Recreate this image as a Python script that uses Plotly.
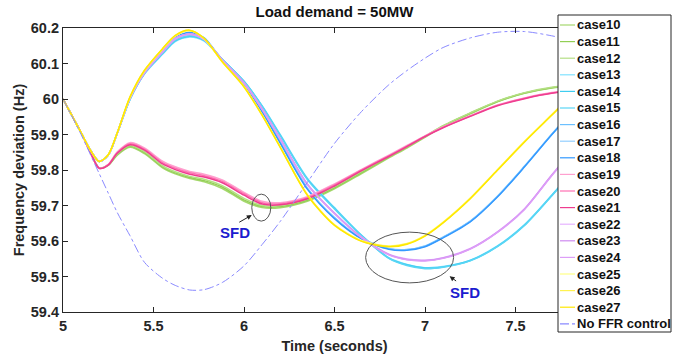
import plotly.graph_objects as go

# ---------------- data ----------------
time_s = [5.0, 5.1, 5.15, 5.2, 5.25, 5.3, 5.37, 5.45, 5.55, 5.62, 5.7, 5.78, 5.88,
          6.0, 6.1, 6.2, 6.35, 6.5, 6.65, 6.8, 6.9, 7.0, 7.1, 7.25, 7.4, 7.55, 7.7, 7.85, 8.0]

case10 = [60.0, 59.905, 59.852, 59.806, 59.813, 59.842, 59.864, 59.846, 59.806, 59.789, 59.776, 59.767,
          59.748, 59.712, 59.694, 59.694, 59.712, 59.747, 59.79, 59.834, 59.862, 59.892, 59.922, 59.958,
          59.992, 60.016, 60.031, 60.039, 60.042]
case11 = [60.0, 59.905, 59.852, 59.806, 59.814, 59.844, 59.867, 59.849, 59.809, 59.792, 59.779, 59.770,
          59.752, 59.716, 59.697, 59.697, 59.715, 59.750, 59.793, 59.837, 59.865, 59.894, 59.924, 59.960,
          59.993, 60.017, 60.032, 60.040, 60.043]
case12 = [60.0, 59.905, 59.852, 59.806, 59.815, 59.846, 59.869, 59.852, 59.812, 59.795, 59.782, 59.774,
          59.756, 59.720, 59.700, 59.700, 59.718, 59.753, 59.796, 59.839, 59.867, 59.895, 59.925, 59.961,
          59.994, 60.018, 60.033, 60.041, 60.044]

case13 = [60.0, 59.905, 59.857, 59.824, 59.842, 59.903, 59.998, 60.07, 60.126, 60.162, 60.175, 60.163,
          60.111, 60.05, 59.981, 59.9, 59.777, 59.694, 59.616, 59.553, 59.534, 59.525, 59.528, 59.546,
          59.586, 59.646, 59.729, 59.816, 59.9]
case14 = [60.0, 59.905, 59.857, 59.824, 59.842, 59.904, 59.999, 60.072, 60.128, 60.164, 60.177, 60.165,
          60.112, 60.05, 59.98, 59.898, 59.775, 59.692, 59.615, 59.552, 59.533, 59.524, 59.527, 59.545,
          59.585, 59.645, 59.728, 59.815, 59.9]
case15 = [60.0, 59.905, 59.857, 59.824, 59.842, 59.904, 60.0, 60.073, 60.13, 60.166, 60.179, 60.167,
          60.112, 60.049, 59.979, 59.896, 59.773, 59.690, 59.614, 59.551, 59.531, 59.522, 59.526, 59.544,
          59.584, 59.644, 59.727, 59.814, 59.899]

case16 = [60.0, 59.905, 59.857, 59.824, 59.842, 59.904, 60.001, 60.074, 60.133, 60.17, 60.184, 60.168,
          60.108, 60.041, 59.966, 59.879, 59.749, 59.666, 59.607, 59.579, 59.576, 59.586, 59.611, 59.656,
          59.726, 59.811, 59.901, 59.986, 60.066]
case17 = [60.0, 59.905, 59.857, 59.824, 59.842, 59.904, 60.002, 60.075, 60.135, 60.172, 60.186, 60.17,
          60.108, 60.04, 59.965, 59.878, 59.748, 59.665, 59.607, 59.578, 59.575, 59.585, 59.61, 59.655,
          59.725, 59.81, 59.9, 59.985, 60.065]
case18 = [60.0, 59.905, 59.857, 59.824, 59.842, 59.905, 60.003, 60.076, 60.137, 60.174, 60.188, 60.172,
          60.108, 60.039, 59.963, 59.876, 59.746, 59.663, 59.606, 59.577, 59.574, 59.584, 59.609, 59.654,
          59.724, 59.809, 59.899, 59.984, 60.064]

case19 = [60.0, 59.905, 59.851, 59.805, 59.816, 59.851, 59.877, 59.862, 59.825, 59.809, 59.796, 59.788,
          59.772, 59.737, 59.712, 59.708, 59.725, 59.761, 59.802, 59.842, 59.869, 59.896, 59.921, 59.953,
          59.983, 60.003, 60.018, 60.025, 60.028]
case20 = [60.0, 59.905, 59.851, 59.805, 59.815, 59.849, 59.874, 59.859, 59.821, 59.805, 59.792, 59.784,
          59.768, 59.733, 59.708, 59.705, 59.722, 59.758, 59.8, 59.84, 59.867, 59.895, 59.92, 59.952,
          59.982, 60.002, 60.017, 60.024, 60.027]
case21 = [60.0, 59.905, 59.851, 59.805, 59.814, 59.847, 59.871, 59.856, 59.817, 59.801, 59.788, 59.78,
          59.764, 59.729, 59.704, 59.702, 59.719, 59.755, 59.798, 59.838, 59.866, 59.894, 59.919, 59.951,
          59.981, 60.001, 60.016, 60.023, 60.026]

case22 = [60.0, 59.905, 59.857, 59.824, 59.842, 59.904, 60.002, 60.075, 60.134, 60.171, 60.184, 60.169,
          60.11, 60.046, 59.973, 59.889, 59.761, 59.679, 59.611, 59.563, 59.549, 59.546, 59.553, 59.579,
          59.626, 59.691, 59.786, 59.876, 59.961]
case23 = [60.0, 59.905, 59.857, 59.824, 59.842, 59.904, 60.002, 60.074, 60.133, 60.17, 60.183, 60.168,
          60.11, 60.045, 59.972, 59.888, 59.76, 59.678, 59.61, 59.562, 59.548, 59.545, 59.552, 59.578,
          59.625, 59.69, 59.785, 59.875, 59.96]
case24 = [60.0, 59.905, 59.857, 59.824, 59.842, 59.904, 60.001, 60.073, 60.132, 60.169, 60.182, 60.167,
          60.11, 60.044, 59.971, 59.887, 59.759, 59.677, 59.609, 59.561, 59.547, 59.544, 59.551, 59.577,
          59.624, 59.689, 59.784, 59.874, 59.959]

case25 = [60.0, 59.905, 59.857, 59.824, 59.843, 59.905, 60.004, 60.079, 60.14, 60.177, 60.192, 60.17,
          60.105, 60.036, 59.956, 59.866, 59.731, 59.646, 59.601, 59.586, 59.593, 59.616, 59.653, 59.721,
          59.801, 59.881, 59.956, 60.031, 60.096]
case26 = [60.0, 59.905, 59.857, 59.824, 59.843, 59.905, 60.005, 60.08, 60.141, 60.178, 60.193, 60.17,
          60.105, 60.035, 59.955, 59.865, 59.73, 59.645, 59.6, 59.585, 59.592, 59.615, 59.652, 59.72,
          59.8, 59.88, 59.955, 60.03, 60.095]
case27 = [60.0, 59.905, 59.857, 59.824, 59.843, 59.905, 60.006, 60.081, 60.142, 60.179, 60.194, 60.171,
          60.105, 60.034, 59.954, 59.864, 59.729, 59.644, 59.599, 59.584, 59.591, 59.614, 59.651, 59.719,
          59.799, 59.879, 59.954, 60.029, 60.094]

no_ffr = [60.0, 59.9, 59.845, 59.79, 59.735, 59.68, 59.615, 59.54, 59.495, 59.475, 59.462, 59.463,
          59.483, 59.53, 59.59, 59.655, 59.765, 59.875, 59.965, 60.04, 60.08, 60.115, 60.145, 60.172,
          60.188, 60.19, 60.178, 60.16, 60.135]

case_names = ["case10", "case11", "case12", "case13", "case14", "case15", "case16", "case17", "case18",
              "case19", "case20", "case21", "case22", "case23", "case24", "case25", "case26", "case27"]
case_values = [case10, case11, case12, case13, case14, case15, case16, case17, case18,
               case19, case20, case21, case22, case23, case24, case25, case26, case27]
case_colors = ["#a6d86e", "#92cf55", "#b4df84",
               "#80e2ff", "#3fcdf0", "#5ad6f5",
               "#6cc0ff", "#93cfff", "#3399ff",
               "#ffa0cf", "#ff70b2", "#ee3d8f",
               "#e6b3ff", "#cf8bf0", "#dd9ef7",
               "#ffff85", "#fff250", "#ffe800"]
no_ffr_name = "No FFR control"
no_ffr_color = "#8a8aff"

x_ticks = [5, 5.5, 6, 6.5, 7, 7.5]
y_ticks = [59.4, 59.5, 59.6, 59.7, 59.8, 59.9, 60.0, 60.1, 60.2]
y_ticktext = ["59.4", "59.5", "59.6", "59.7", "59.8", "59.9", "60", "60.1", "60.2"]

# ---------------- figure ----------------
W, H = 678, 355
ML, MR, MT, MB = 63, 72, 28, 43
PW, PH = W - ML - MR, H - MT - MB


def px2x(px):
    return (px - ML) / PW


def px2y(py):
    return (H - MB - py) / PH


FONT = "Liberation Sans, Arial, sans-serif"
DARK = "#262626"

fig = go.Figure()
for name, vals, col in zip(case_names, case_values, case_colors):
    fig.add_trace(go.Scatter(x=time_s, y=vals, name=name, mode="lines",
                             line=dict(color=col, width=1.5, shape="spline", smoothing=0.8),
                             showlegend=False))
fig.add_trace(go.Scatter(x=time_s, y=no_ffr, name=no_ffr_name, mode="lines",
                         line=dict(color=no_ffr_color, width=1, dash="dashdot", shape="spline", smoothing=0.8),
                         showlegend=False))

shapes = []
annotations = []

# SFD ellipses
shapes.append(dict(type="circle", xref="x", yref="y", x0=6.043, x1=6.148, y0=59.656, y1=59.732,
                   line=dict(color="#555555", width=1)))
shapes.append(dict(type="circle", xref="x", yref="y", x0=6.672, x1=7.158, y0=59.482, y1=59.625,
                   line=dict(color="#555555", width=1)))
annotations.append(dict(x=6.043, y=59.673, xref="x", yref="y", ax=-14, ay=8, text="",
                        showarrow=True, arrowhead=2, arrowsize=1, arrowwidth=1, arrowcolor="#222222"))
annotations.append(dict(x=7.136, y=59.501, xref="x", yref="y", ax=8, ay=6, text="",
                        showarrow=True, arrowhead=2, arrowsize=1, arrowwidth=1, arrowcolor="#222222"))
annotations.append(dict(x=5.949, y=59.625, xref="x", yref="y", text="SFD", showarrow=False,
                        font=dict(family=FONT, size=15, color="#1c1ccf", weight="bold")))
annotations.append(dict(x=7.219, y=59.454, xref="x", yref="y", text="SFD", showarrow=False,
                        font=dict(family=FONT, size=15, color="#1c1ccf", weight="bold")))

# manual legend (box, samples, labels)
LX0, LX1, LY0, LY1 = 558, 671, 15, 332
shapes.append(dict(type="rect", xref="paper", yref="paper", layer="above",
                   x0=px2x(LX0), x1=px2x(LX1), y0=px2y(LY1), y1=px2y(LY0),
                   fillcolor="white", line=dict(color=DARK, width=1)))
leg_names = case_names + [no_ffr_name]
leg_colors = case_colors + [no_ffr_color]
for i, (nm, col) in enumerate(zip(leg_names, leg_colors)):
    cy = 25 + i * 16.6
    dash = "dashdot" if nm == no_ffr_name else "solid"
    shapes.append(dict(type="line", xref="paper", yref="paper", layer="above",
                       x0=px2x(560), x1=px2x(575), y0=px2y(cy), y1=px2y(cy),
                       line=dict(color=col, width=1.2, dash=dash)))
    annotations.append(dict(x=px2x(575), y=px2y(cy), xref="paper", yref="paper", text=nm,
                            showarrow=False, xanchor="left", yanchor="middle",
                            font=dict(family=FONT, size=13, color="#111111", weight="bold")))

fig.update_layout(
    width=W, height=H,
    margin=dict(l=ML, r=MR, t=MT, b=MB, pad=0, autoexpand=False),
    paper_bgcolor="white", plot_bgcolor="white",
    title=dict(text="Load demand = 50MW", x=0.5, xref="paper", y=1 - 12 / H, yref="container",
               xanchor="center", yanchor="middle",
               font=dict(family=FONT, size=15, color="#111111", weight="bold")),
    xaxis=dict(range=[5, 8], tickvals=x_ticks, ticks="inside", ticklen=5, tickwidth=1,
               tickcolor=DARK, showline=True, linecolor=DARK, linewidth=1.2, mirror="ticks",
               showgrid=False, zeroline=False, automargin=False,
               tickfont=dict(family=FONT, size=14.5, color=DARK, weight="bold"),
               title=dict(text="Time (seconds)", standoff=8,
                          font=dict(family=FONT, size=14.5, color=DARK, weight="bold"))),
    yaxis=dict(range=[59.4, 60.2], tickvals=y_ticks, ticktext=y_ticktext, ticks="inside", ticklen=5,
               tickwidth=1, tickcolor=DARK, showline=True, linecolor=DARK, linewidth=1.2, mirror="ticks",
               showgrid=False, zeroline=False, automargin=False,
               tickfont=dict(family=FONT, size=14.5, color=DARK, weight="bold"),
               title=dict(text="Frequency deviation (Hz)", standoff=2,
                          font=dict(family=FONT, size=14.5, color=DARK, weight="bold"))),
    shapes=shapes,
    annotations=annotations,
    showlegend=False,
)

fig.write_html("out.html")
